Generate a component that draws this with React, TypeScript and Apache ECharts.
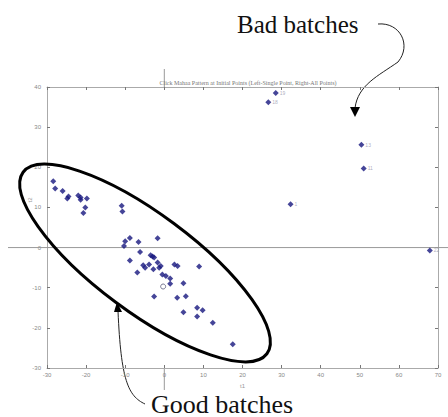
import React, { useEffect, useRef } from "react";
import * as echarts from "echarts";

const chartTitle =
  "Click Mahaa Pattern at Initial Points (Left-Single Point, Right-All Points)";
const xName = "t1";
const yName = "t2";

const goodPoints: [number, number][] = [
  [-28.4, 16.5], [-27.9, 14.7], [-26.0, 14.1], [-24.5, 12.7], [-24.8, 12.2],
  [-22.0, 13.0], [-21.4, 12.5], [-21.4, 11.9], [-19.8, 12.2], [-20.2, 10.0],
  [-20.7, 8.6], [-10.9, 10.4], [-10.7, 9.0], [-10.0, 1.6], [-10.3, 0.4],
  [-8.8, 2.4], [-6.6, 1.4], [-1.7, 2.3], [-6.2, -1.1], [-8.8, -3.2],
  [-6.9, -6.2], [-5.4, -4.4], [-4.9, -5.0], [-3.9, -4.2], [-3.5, -1.9],
  [-3.0, -2.2], [-2.6, -2.5], [-2.8, -5.4], [-1.7, -3.7], [-1.3, -5.0],
  [-0.9, -4.6], [-0.5, -6.7], [0.4, -7.1], [1.5, -7.7], [1.5, -9.0],
  [2.6, -4.2], [3.4, -4.6], [4.9, -8.9], [-2.6, -12.2], [3.3, -12.5],
  [5.5, -12.1], [4.9, -16.1], [8.9, -4.7], [8.4, -15.0], [9.8, -15.6],
  [8.4, -17.2], [12.4, -18.7], [17.5, -24.1],
];
const hollowPoints: [number, number][] = [[-0.3, -9.7]];

const badPoints: [number, number][] = [
  [28.5, 38.5], [26.6, 36.2], [50.4, 25.6], [51.0, 19.7], [32.3, 10.8], [67.9, -0.7],
];
const badLabels = ["19", "18", "13", "11", "1", "22"];

const xMin = -30, xMax = 70, xStep = 10;
const yMin = -30, yMax = 40, yStep = 10;

export default function App() {
  const ref = useRef<HTMLDivElement>(null);
  useEffect(() => {
    if (!ref.current) return;
    const chart = echarts.init(ref.current, null, { renderer: "svg" });
    const axisCol = "#aaaaaa";
    const labelStyle = { color: "#888", fontSize: 6, fontFamily: "Liberation Sans" };
    const grid = { left: 47, right: 10, top: 87, bottom: 49 };
    const markerColor = "#16167e";
    chart.setOption({
      animation: false,
      backgroundColor: "#ffffff",
      title: {
        text: chartTitle,
        left: 243,
        textAlign: "center",
        top: 75,
        textStyle: { color: "#777777", fontSize: 6, fontWeight: "normal", fontFamily: "Liberation Serif" },
      },
      grid,
      xAxis: [
        {
          type: "value", min: xMin, max: xMax, interval: xStep,
          name: xName, nameLocation: "middle", nameGap: 9,
          nameTextStyle: { color: "#999999", fontSize: 6 },
          axisLine: { show: true, onZero: false, lineStyle: { color: axisCol, width: 1 } },
          axisTick: { inside: true, length: 3, lineStyle: { color: "#777" } },
          axisLabel: { ...labelStyle, margin: 4 },
          splitLine: { show: false },
        },
        {
          type: "value", min: xMin, max: xMax, interval: xStep, position: "top",
          axisLine: { show: true, onZero: false, lineStyle: { color: axisCol, width: 1 } },
          axisTick: { inside: true, length: 3, lineStyle: { color: "#777" } },
          axisLabel: { show: false }, splitLine: { show: false },
        },
      ],
      yAxis: [
        {
          type: "value", min: yMin, max: yMax, interval: yStep,
          axisLine: { show: true, onZero: false, lineStyle: { color: axisCol, width: 1 } },
          axisTick: { inside: true, length: 3, lineStyle: { color: "#777" } },
          axisLabel: { ...labelStyle, margin: 6 },
          splitLine: { show: false },
        },
        {
          type: "value", min: yMin, max: yMax, interval: yStep, position: "right",
          axisLine: { show: true, onZero: false, lineStyle: { color: axisCol, width: 1 } },
          axisTick: { inside: true, length: 3, lineStyle: { color: "#777" } },
          axisLabel: { show: false }, splitLine: { show: false },
        },
      ],
      series: [
        {
          type: "scatter", name: "good", data: goodPoints,
          symbol: "diamond", symbolSize: 6,
          itemStyle: { color: markerColor },
        },
        {
          type: "scatter", name: "hollow", data: hollowPoints,
          symbol: "circle", symbolSize: 5,
          itemStyle: { color: "#ffffff", borderColor: "#555577", borderWidth: 1 },
        },
        {
          type: "scatter", name: "bad",
          data: badPoints.map((p, i) => ({ value: p, name: badLabels[i] })),
          symbol: "diamond", symbolSize: 6,
          itemStyle: { color: markerColor },
          label: {
            show: true, position: "right", distance: 1,
            formatter: (p: any) => p.name,
            color: "#9a9ab0", fontSize: 5,
          },
        },
      ],
    });

    const zx = chart.convertToPixel({ xAxisIndex: 0 }, 0) as number;
    const zy = chart.convertToPixel({ yAxisIndex: 0 }, 0) as number;
    const plotTop = chart.convertToPixel({ yAxisIndex: 0 }, yMax) as number;
    const plotBottom = chart.convertToPixel({ yAxisIndex: 0 }, yMin) as number;
    const plotLeft = chart.convertToPixel({ xAxisIndex: 0 }, xMin) as number;

    const lineCol = "#999";
    chart.setOption({
      graphic: [
        { type: "line", shape: { x1: 8, y1: zy, x2: 448, y2: zy }, style: { stroke: lineCol, lineWidth: 1 }, z: 1 },
        { type: "line", shape: { x1: zx, y1: 69, x2: zx, y2: plotTop }, style: { stroke: lineCol, lineWidth: 1 } },
        { type: "line", shape: { x1: zx, y1: plotBottom, x2: zx, y2: 390 }, style: { stroke: lineCol, lineWidth: 1 } },
        {
          type: "text", x: plotLeft - 17, y: 200, rotation: Math.PI / 2,
          style: { text: yName, fill: "#999", fontSize: 6, align: "center", verticalAlign: "middle" },
        },
        {
          type: "ellipse", x: 145, y: 263, rotation: -0.64,
          shape: { cx: 0, cy: 0, rx: 152, ry: 49 },
          style: { fill: "none", stroke: "#000", lineWidth: 3 }, z: 10,
        },
        {
          type: "text", x: 237, y: 12,
          style: { text: "Bad batches", fill: "#111", fontSize: 25, fontFamily: "Liberation Serif" },
        },
        {
          type: "bezierCurve",
          shape: { x1: 378, y1: 24, cpx1: 400, cpy1: 22, cpx2: 412, cpy2: 45, x2: 398, y2: 62 },
          style: { stroke: "#222", lineWidth: 1, fill: "none" },
        },
        {
          type: "bezierCurve",
          shape: { x1: 398, y1: 62, cpx1: 378, cpy1: 76, cpx2: 358, cpy2: 85, x2: 355, y2: 108 },
          style: { stroke: "#222", lineWidth: 1, fill: "none" },
        },
        { type: "polygon", shape: { points: [[350, 107], [360, 107], [355, 117]] }, style: { fill: "#000" } },
        {
          type: "text", x: 151, y: 391,
          style: { text: "Good batches", fill: "#111", fontSize: 26, fontFamily: "Liberation Serif" },
        },
        {
          type: "bezierCurve",
          shape: { x1: 145, y1: 404, cpx1: 128, cpy1: 396, cpx2: 121, cpy2: 380, x2: 118, y2: 311 },
          style: { stroke: "#222", lineWidth: 1, fill: "none" },
        },
        { type: "polygon", shape: { points: [[114, 312], [122, 312], [117, 302]] }, style: { fill: "#000" } },
      ],
    });
    return () => chart.dispose();
  }, []);
  return (
    <div
      ref={ref}
      style={{ position: "fixed", left: 0, top: 0, width: 448, height: 417, background: "#fff" }}
    />
  );
}
